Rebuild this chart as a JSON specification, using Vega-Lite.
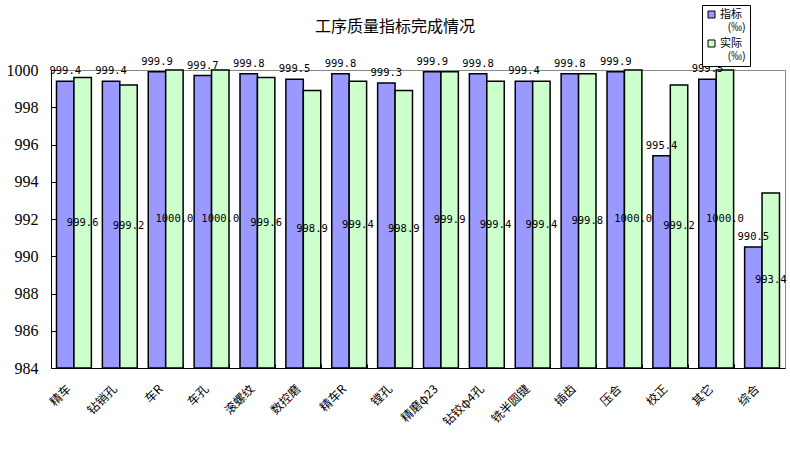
{
  "$schema": "https://vega.github.io/schema/vega-lite/v6.json",
  "width": 734,
  "height": 298,
  "autosize": {"type": "none"},
  "padding": {"left": 51, "top": 70, "right": 5, "bottom": 83},
  "background": "white",
  "title": {"text": "工序质量指标完成情况", "font": "Noto Sans CJK SC", "fontSize": 16, "fontWeight": "normal", "color": "black", "anchor": "middle", "frame": "group", "dx": -23, "offset": 0, "dy": 30},
  "config": {"view": {"stroke": "#888888", "strokeWidth": 1}},
  "data": {"values": [
    {"process": "精车", "series": "指标", "value": 999.4},
    {"process": "精车", "series": "实际", "value": 999.6},
    {"process": "钻销孔", "series": "指标", "value": 999.4},
    {"process": "钻销孔", "series": "实际", "value": 999.2},
    {"process": "车R", "series": "指标", "value": 999.9},
    {"process": "车R", "series": "实际", "value": 1000.0},
    {"process": "车孔", "series": "指标", "value": 999.7},
    {"process": "车孔", "series": "实际", "value": 1000.0},
    {"process": "滚螺纹", "series": "指标", "value": 999.8},
    {"process": "滚螺纹", "series": "实际", "value": 999.6},
    {"process": "数控磨", "series": "指标", "value": 999.5},
    {"process": "数控磨", "series": "实际", "value": 998.9},
    {"process": "精车R", "series": "指标", "value": 999.8},
    {"process": "精车R", "series": "实际", "value": 999.4},
    {"process": "镗孔", "series": "指标", "value": 999.3},
    {"process": "镗孔", "series": "实际", "value": 998.9},
    {"process": "精磨φ23", "series": "指标", "value": 999.9},
    {"process": "精磨φ23", "series": "实际", "value": 999.9},
    {"process": "钻铰φ4孔", "series": "指标", "value": 999.8},
    {"process": "钻铰φ4孔", "series": "实际", "value": 999.4},
    {"process": "铣半圆键", "series": "指标", "value": 999.4},
    {"process": "铣半圆键", "series": "实际", "value": 999.4},
    {"process": "插齿", "series": "指标", "value": 999.8},
    {"process": "插齿", "series": "实际", "value": 999.8},
    {"process": "压合", "series": "指标", "value": 999.9},
    {"process": "压合", "series": "实际", "value": 1000.0},
    {"process": "校正", "series": "指标", "value": 995.4},
    {"process": "校正", "series": "实际", "value": 999.2},
    {"process": "其它", "series": "指标", "value": 999.5},
    {"process": "其它", "series": "实际", "value": 1000.0},
    {"process": "综合", "series": "指标", "value": 990.5},
    {"process": "综合", "series": "实际", "value": 993.4}
  ]},
  "encoding": {
    "x": {
      "field": "process", "type": "nominal", "sort": null,
      "scale": {"paddingInner": 0.24, "paddingOuter": 0.12},
      "axis": {"title": null, "labelAngle": -45, "labelAlign": "right", "labelBaseline": "top", "labelFont": "Noto Sans CJK SC", "labelFontSize": 12, "labelColor": "black", "domainColor": "black", "tickColor": "black", "tickSize": -4, "tickBand": "extent", "labelPadding": 19, "labelOffset": -9}
    },
    "xOffset": {"field": "series", "type": "nominal", "sort": null}
  },
  "layer": [
    {
      "mark": {"type": "bar", "stroke": "black", "strokeWidth": 1.5},
      "encoding": {
        "y": {"field": "value", "type": "quantitative", "scale": {"domain": [984, 1000], "zero": false, "nice": false},
          "axis": {"title": null, "values": [984, 986, 988, 990, 992, 994, 996, 998, 1000], "format": "d", "grid": false, "domainColor": "black", "tickColor": "black", "tickSize": -5, "labelFont": "Liberation Serif", "labelFontSize": 16, "labelColor": "black", "labelPadding": 18}},
        "y2": {"datum": 984},
        "color": {"field": "series", "type": "nominal", "sort": null,
          "scale": {"domain": ["指标", "实际"], "range": ["#9999FF", "#CCFFCC"]},
          "legend": {"orient": "none", "legendX": 651, "legendY": -65, "title": null, "strokeColor": "black", "fillColor": "white", "padding": 4, "symbolType": "square", "symbolSize": 49, "symbolStrokeColor": "black", "symbolStrokeWidth": 1, "labelFont": "Noto Sans CJK SC", "labelFontSize": 11, "labelColor": "black", "labelOffset": 3, "labelExpr": "[datum.label, '\u200b\u00a0\u00a0\u00a0(‰)']", "rowPadding": 4}}
      }
    },
    {
      "transform": [{"filter": "datum.series === '指标'"}],
      "mark": {"type": "text", "baseline": "bottom", "dy": -5, "font": "DejaVu Sans Mono", "fontSize": 10.5, "color": "black"},
      "encoding": {
        "y": {"field": "value", "type": "quantitative", "scale": {"domain": [984, 1000], "zero": false, "nice": false}, "axis": null},
        "text": {"field": "value", "type": "quantitative", "format": ".1f"}
      }
    },
    {
      "transform": [{"filter": "datum.series === '实际'"}],
      "mark": {"type": "text", "baseline": "middle", "font": "DejaVu Sans Mono", "fontSize": 10.5, "color": "black"},
      "encoding": {
        "y": {"field": "value", "type": "quantitative", "scale": {"domain": [984, 1016], "zero": false, "nice": false}, "axis": null},
        "text": {"field": "value", "type": "quantitative", "format": ".1f"}
      }
    }
  ],
  "resolve": {"scale": {"y": "independent"}}
}
